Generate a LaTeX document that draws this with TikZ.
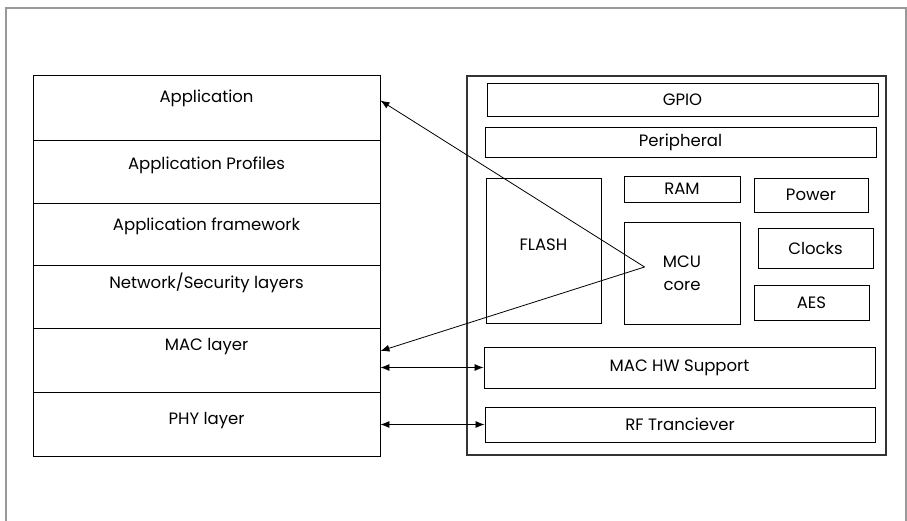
\documentclass[tikz,border=0pt]{standalone}
\usepackage{fontspec}
\setmainfont{Poppins}
\usetikzlibrary{arrows.meta}
\tikzset{
	blk/.style={draw, line width=0.9pt, inner sep=0pt, font=\fontsize{16.5}{19}\selectfont, align=center},
	cell/.style={blk, minimum width=347pt, minimum height=#1},
	txt/.style={anchor=center, font=\fontsize{16.5}{19}\selectfont},
	link/.style={line width=0.8pt, -{Latex[length=9pt,width=7pt]}},
	both/.style={line width=0.8pt, {Latex[length=9pt,width=7pt]}-{Latex[length=9pt,width=7pt]}}
}
\begin{document}
\begin{tikzpicture}[x=1pt,y=-1pt]
	\useasboundingbox(0,0)rectangle(907,520);
	\draw[gray!80, line width=1.2pt](6,521)|-(906,8)--(906,521);
	\node[cell=65pt, label={[txt, yshift=-24pt]north:Application}](app)at(206.5,107.5){};
	\node[cell=63pt, label={[txt, yshift=-26pt]north:Application Profiles}](prof)at(206.5,171.5){};
	\node[cell=62pt, label={[txt, yshift=-24pt]north:Application framework}](frame)at(206.5,234){};
	\node[cell=63pt, label={[txt, yshift=-18pt]north:Network/Security layers}](net)at(206.5,296.5){};
	\node[cell=64pt, label={[txt, yshift=-19pt]north:MAC layer}](mac)at(206.5,360){};
	\node[cell=64pt, label={[txt, yshift=-29pt]north:PHY layer}](phy)at(206.5,424){};
	\node[blk, draw=black!80, line width=1.1pt, minimum width=419pt, minimum height=379pt](chip)at(676.5,265.5){};
	\node[blk, minimum width=391pt, minimum height=33pt](gpio)at(682.5,99.5){GPIO};
	\node[blk, minimum width=391pt, minimum height=30pt](periph)at(680.5,142){Peripheral};
	\node[blk, minimum width=115pt, minimum height=145pt, label={[txt, yshift=-67pt]north:FLASH}](flash)at(543.5,250.5){};
	\node[blk, minimum width=116pt, minimum height=26pt](ram)at(682,189){RAM};
	\node[blk, minimum width=116pt, minimum height=102pt, font=\fontsize{16.5}{23}\selectfont](mcu)at(682,273){MCU\\core};
	\node[blk, minimum width=114pt, minimum height=34pt](power)at(811,195){Power};
	\node[blk, minimum width=115pt, minimum height=40pt](clocks)at(815.5,248){Clocks};
	\node[blk, minimum width=115pt, minimum height=35pt](aes)at(811.5,302.5){AES};
	\node[blk, minimum width=391pt, minimum height=41pt](machw)at(679.5,367.5){MAC HW Support};
	\node[blk, minimum width=390pt, minimum height=35pt](rf)at(680,424.5){RF Tranciever};
	\coordinate(tip)at([xshift=21pt,yshift=6pt]mcu.west);
	\draw[link](tip)--([yshift=7pt]app.east);
	\draw[link](tip)--([yshift=9pt]mac.east);
	\draw[both](mac.east|-machw.west)--(machw.west);
	\draw[both](phy.east|-rf.west)--(rf.west);
\end{tikzpicture}
\end{document}
